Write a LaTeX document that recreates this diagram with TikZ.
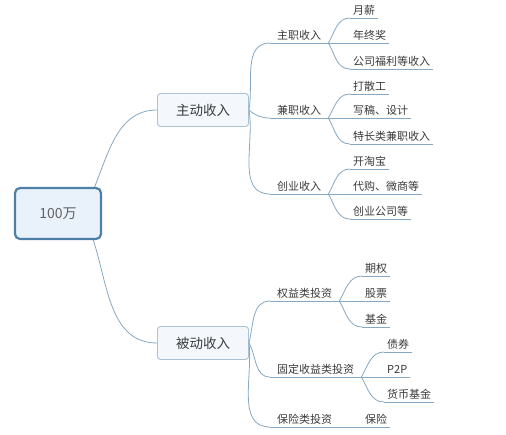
\documentclass[tikz,border=0pt]{standalone}
\usepackage{fontspec}
\setmainfont{Noto Sans CJK SC}
\definecolor{xian}{HTML}{86A8C2}
\definecolor{genbian}{HTML}{4D80A6}
\definecolor{genfill}{HTML}{E9F1FB}
\definecolor{zhubian}{HTML}{A9C1D5}
\definecolor{zhufill}{HTML}{F4F8FD}
\definecolor{zi}{HTML}{3A3A3A}
\tikzset{
  gen/.style={draw=genbian, line width=2.2pt, fill=genfill, rounded corners=5pt,
    minimum width=86pt, minimum height=51pt, font=\fontsize{14}{16}\selectfont, text=zi!80},
  zhu/.style={draw=zhubian, line width=0.9pt, fill=zhufill, rounded corners=3pt,
    minimum width=91pt, minimum height=33pt, font=\fontsize{13.5}{15}\selectfont, text=zi},
  fen/.style={anchor=south west, inner xsep=7pt, inner ysep=0pt, text height=9pt,
    text depth=3pt, font=\fontsize{11}{13}\selectfont, text=zi},
  ye/.style={fen, inner xsep=3pt},
  lian/.style={draw=xian, line width=0.8pt}
}
\begin{document}
\begin{tikzpicture}[x=1pt,y=-1pt]
  \useasboundingbox (0,0) rectangle (506,434);
  \node[gen] (gen) at (58,213.5) {100万};
  \node[zhu] (zd) at (203,110) {主动收入};
  \node[zhu] (bd) at (203,343) {被动收入};
  \draw[lian] (gen.36) to[out=68,in=180] (zd.west);
  \draw[lian] (gen.-37) to[out=-72,in=180] (bd.west);

  \node[fen] (zz) at (270,43) {主职收入};
  \node[fen] (jz) at (270,118) {兼职收入};
  \node[fen] (cy) at (270,194) {创业收入};
  \node[fen] (qy) at (270,301) {权益类投资};
  \node[fen] (gd) at (270,377) {固定收益类投资};
  \node[fen] (bx) at (270,427) {保险类投资};
  \foreach \n in {zz,jz,cy,qy,gd,bx}
    \draw[lian] (\n.south west) -- (\n.south east);
  \draw[lian] (zd.east) to[out=80,in=180] (zz.south west);
  \draw[lian] (zd.east) to[out=-40,in=180] (jz.south west);
  \draw[lian] (zd.east) to[out=-80,in=180] (cy.south west);
  \draw[lian] (bd.east) to[out=75,in=180] (qy.south west);
  \draw[lian] (bd.east) to[out=-60,in=180] (gd.south west);
  \draw[lian] (bd.east) to[out=-83,in=180] (bx.south west);

  \node[ye] (yx) at (350,18) {月薪};
  \node[ye] (nz) at (350,43) {年终奖};
  \node[ye] (gs) at (350,69) {公司福利等收入};
  \node[ye] (ds) at (350,94) {打散工};
  \node[ye] (xg) at (350,118) {写稿、设计};
  \node[ye] (tc) at (350,144) {特长类兼职收入};
  \node[ye] (kt) at (350,169) {开淘宝};
  \node[ye] (dg) at (350,194) {代购、微商等};
  \node[ye] (cg) at (350,219) {创业公司等};
  \node[ye] (qq) at (362,276) {期权};
  \node[ye] (gp) at (362,301) {股票};
  \node[ye] (jj) at (362,327) {基金};
  \node[ye] (zq) at (384,352) {债券};
  \node[ye] (pp) at (384,377) {P2P};
  \node[ye] (hb) at (384,402) {货币基金};
  \node[ye] (bxl) at (362,427) {保险};
  \foreach \n in {yx,nz,gs,ds,xg,tc,kt,dg,cg,qq,gp,jj,zq,pp,hb,bxl}
    \draw[lian] (\n.south west) -- (\n.south east);

  \draw[lian] (zz.south east) to[out=60,in=180] (yx.south west);
  \draw[lian] (zz.south east) -- (nz.south west);
  \draw[lian] (zz.south east) to[out=-60,in=180] (gs.south west);
  \draw[lian] (jz.south east) to[out=60,in=180] (ds.south west);
  \draw[lian] (jz.south east) -- (xg.south west);
  \draw[lian] (jz.south east) to[out=-60,in=180] (tc.south west);
  \draw[lian] (cy.south east) to[out=60,in=180] (kt.south west);
  \draw[lian] (cy.south east) -- (dg.south west);
  \draw[lian] (cy.south east) to[out=-60,in=180] (cg.south west);
  \draw[lian] (qy.south east) to[out=60,in=180] (qq.south west);
  \draw[lian] (qy.south east) -- (gp.south west);
  \draw[lian] (qy.south east) to[out=-60,in=180] (jj.south west);
  \draw[lian] (gd.south east) to[out=60,in=180] (zq.south west);
  \draw[lian] (gd.south east) -- (pp.south west);
  \draw[lian] (gd.south east) to[out=-60,in=180] (hb.south west);
  \draw[lian] (bx.south east) -- (bxl.south west);
\end{tikzpicture}
\end{document}
